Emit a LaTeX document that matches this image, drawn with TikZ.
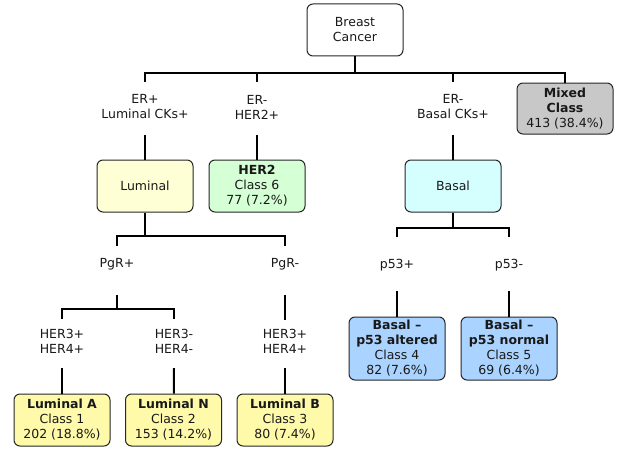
\documentclass[tikz,border=0pt]{standalone}
\usepackage{fontspec}
\setmainfont{DejaVu Sans}
\begin{document}
\begin{tikzpicture}[x=1pt, y=-1pt, every node/.style={font=\fontsize{12.5}{15}\selectfont, align=center, text=black!90}]
        \definecolor{lumPale}{RGB}{255,255,213}
        \definecolor{herGreen}{RGB}{213,255,213}
        \definecolor{basCyan}{RGB}{213,255,255}
        \definecolor{mixGray}{RGB}{200,200,200}
        \definecolor{lumYellow}{RGB}{255,250,170}
        \definecolor{basBlue}{RGB}{170,212,255}
        \tikzset{classbox/.style={draw=black!85, line width=1pt, rounded corners=6pt,
            minimum width=96pt, minimum height=52pt, inner sep=1pt},
          link/.style={line width=2pt}}
        \useasboundingbox (0,0) rectangle (623,452);
        % boxes
        \node[classbox, fill=white] (cancer) at (355,30) {Breast\\Cancer};
        \node[classbox, fill=mixGray, minimum height=51pt] (mixed) at (565,108.5) {\textbf{Mixed}\\\textbf{Class}\\413 (38.4\%)};
        \node[classbox, fill=lumPale] (luminal) at (145,186) {Luminal};
        \node[classbox, fill=herGreen] (her2) at (257,186) {\textbf{HER2}\\Class 6\\77 (7.2\%)};
        \node[classbox, fill=basCyan] (basal) at (453,186) {Basal};
        \node[classbox, fill=lumYellow] (lumA) at (62,420) {\textbf{Luminal A}\\Class 1\\202 (18.8\%)};
        \node[classbox, fill=lumYellow] (lumN) at (173.5,420) {\textbf{Luminal N}\\Class 2\\153 (14.2\%)};
        \node[classbox, fill=lumYellow] (lumB) at (285,420) {\textbf{Luminal B}\\Class 3\\80 (7.4\%)};
        \node[classbox, fill=basBlue, minimum height=63pt] (basAlt) at (397,348.5) {\textbf{Basal --}\\\textbf{p53 altered}\\Class 4\\82 (7.6\%)};
        \node[classbox, fill=basBlue, minimum height=63pt] (basNorm) at (509,348.5) {\textbf{Basal --}\\\textbf{p53 normal}\\Class 5\\69 (6.4\%)};
        % markers
        \node (erlum) at (145,107) {ER+\\Luminal CKs+};
        \node (erher) at (257,107) {ER-\\HER2+};
        \node (erbas) at (453,107) {ER-\\Basal CKs+};
        \node (pgrpos) at (117,264) {PgR+};
        \node (pgrneg) at (285,264) {PgR-};
        \node (her34pos) at (62,341) {HER3+\\HER4+};
        \node (her34neg) at (174,341) {HER3-\\HER4-};
        \node (her34posb) at (285,341) {HER3+\\HER4+};
        \node (p53pos) at (397,265) {p53+};
        \node (p53neg) at (509,265) {p53-};
        \foreach \n/\u/\d in {erlum/25/28, erher/25/28, erbas/25/28, pgrpos/18/31, pgrneg/18/31,
            her34pos/22/27, her34neg/22/27, her34posb/21/27, p53pos/28/26, p53neg/28/26}
          \path (\n) +(0,-\u) coordinate (\n-up) +(0,\d) coordinate (\n-dn);
        % first split
        \draw[link] (cancer.south) -- ++(0,16) coordinate (rootBus);
        \draw[link] (erlum-up) |- (rootBus) -| (mixed.north);
        \draw[link] (erher-up) -- (erher-up |- rootBus);
        \draw[link] (erbas-up) -- (erbas-up |- rootBus);
        \draw[link] (erlum-dn) -- (luminal);
        \draw[link] (erher-dn) -- (her2);
        \draw[link] (erbas-dn) -- (basal);
        % luminal branch
        \draw[link] (luminal.south) -- ++(0,23) coordinate (lumBus);
        \draw[link] (pgrpos-up) |- (lumBus) -| (pgrneg-up);
        \draw[link] (pgrpos-dn) -- ++(0,14) coordinate (pgrBus);
        \draw[link] (her34pos-up) |- (pgrBus) -| (her34neg-up);
        \draw[link] (pgrneg-dn) -- (her34posb-up);
        \draw[link] (her34pos-dn) -- (lumA);
        \draw[link] (her34neg-dn) -- (lumN);
        \draw[link] (her34posb-dn) -- (lumB);
        % basal branch
        \draw[link] (basal.south) -- ++(0,15) coordinate (basBus);
        \draw[link] (p53pos-up) |- (basBus) -| (p53neg-up);
        \draw[link] (p53pos-dn) -- (basAlt);
        \draw[link] (p53neg-dn) -- (basNorm);
      \end{tikzpicture}
\end{document}
